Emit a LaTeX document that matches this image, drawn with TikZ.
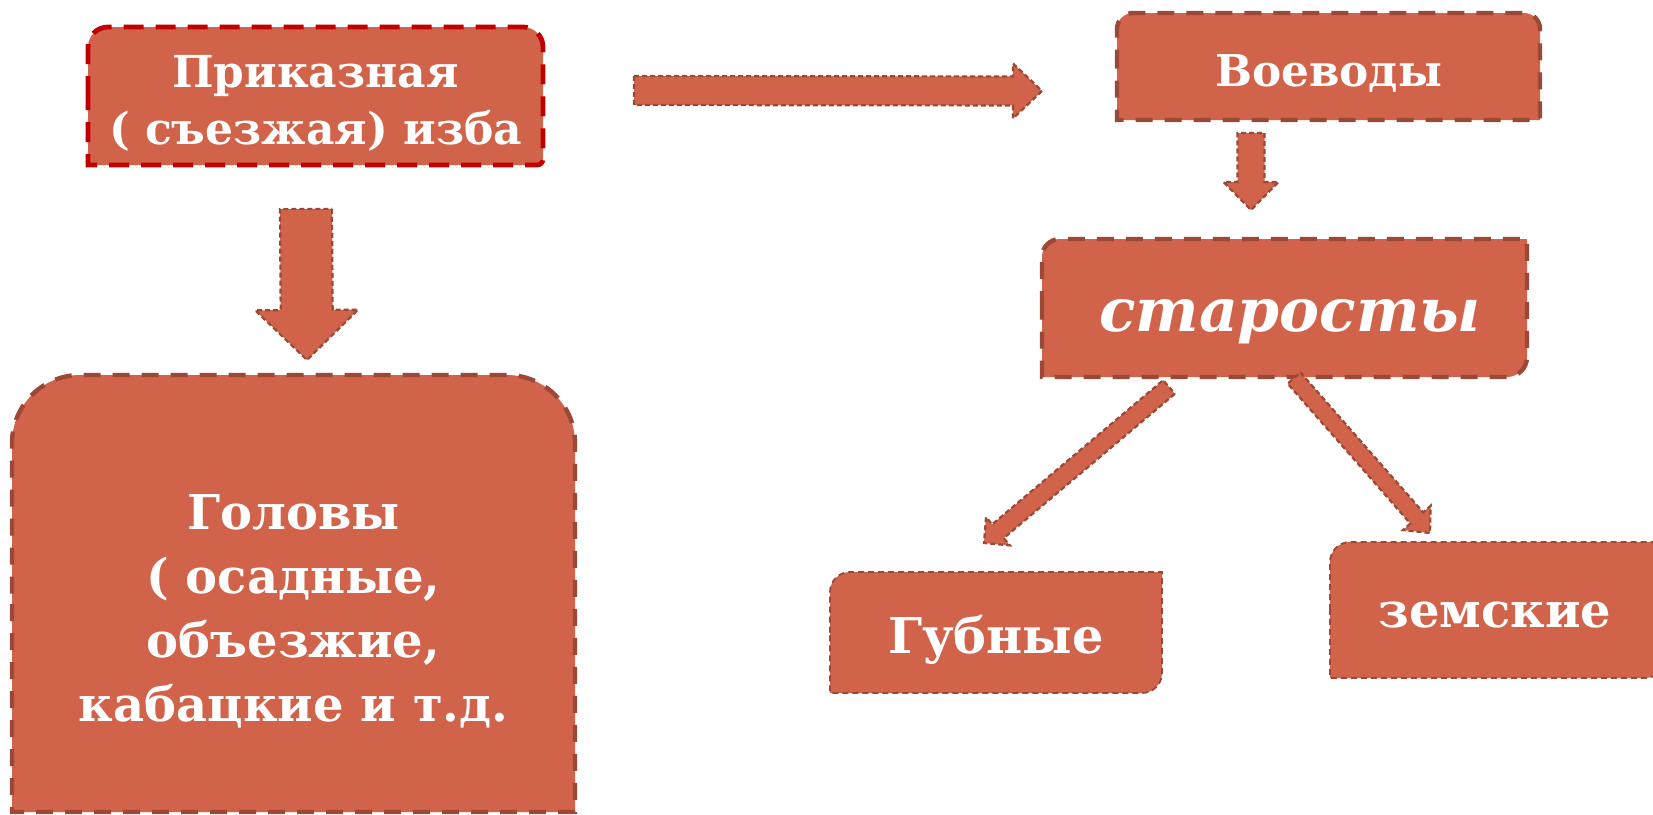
\documentclass[tikz,border=0pt]{standalone}
\usepackage{fontspec}
\setmainfont{DejaVu Serif}
\usepackage{tikz}
\usetikzlibrary{calc, backgrounds}

\definecolor{terra}{RGB}{209,99,74}
\definecolor{rust}{RGB}{155,72,55}
\definecolor{crimson}{RGB}{192,0,0}

% outline of a node, one corner option each: tl, tr, br, bl
\newcommand{\boxoutline}[6]{%
  \path[#2] (#1.west) [#3] -- (#1.north west) -- (#1.north) [#4] -- (#1.north east) -- (#1.east) [#5] -- (#1.south east) -- (#1.south) [#6] -- (#1.south west) -- cycle;}

\begin{document}
\begin{tikzpicture}[node distance=120pt]
%
% Skiss:
% Приказная изба ====> Воеводы
%       ||                 ||
%       V                  V
%    Головы            старосты
%                      //      \\
%                   Губные    земские
%
\tikzstyle{box} = [rectangle, inner sep=0pt, outer sep=0pt]
\tikzstyle{boxtext} = [text=white, align=center, inner sep=0pt]
\tikzstyle{thickline} = [fill=terra, draw=rust, line width=2.2pt, dash pattern=on 8.5pt off 6pt]
\tikzstyle{redline} = [fill=terra, draw=crimson, line width=2.4pt, dash pattern=on 10pt off 6pt]
\tikzstyle{thinline} = [fill=terra, draw=rust, line width=0.9pt, dash pattern=on 3pt off 2pt]
\tikzstyle{arrow} = [fill=terra, draw=rust, line width=1.1pt, dash pattern=on 2.5pt off 1.5pt]
\tikzset{fatarrow/.style n args={3}{to path={
  let \p1=(\tikztostart), \p2=(\tikztotarget),
      \n1={atan2(\y2-\y1,\x2-\x1)}, \n2={veclen(\x2-\x1,\y2-\y1)-#3} in
  ($(\p1)+(\n1+90:#1)$) -- ($(\p1)+(\n1:\n2)+(\n1+90:#1)$)
  -- ($(\p1)+(\n1:\n2)+(\n1+90:#2)$) -- (\p2)
  -- ($(\p1)+(\n1:\n2)+(\n1-90:#2)$) -- ($(\p1)+(\n1:\n2)+(\n1-90:#1)$)
  -- ($(\p1)+(\n1-90:#1)$) -- cycle}}}

\useasboundingbox (0,0) rectangle (826.5pt,-407pt);

% Nodes
\node (izba) [box, minimum width=227.5pt, minimum height=69pt, label={[boxtext, yshift=-3.8pt, font=\bfseries\fontsize{22}{28.5}\selectfont]center:{Приказная\\( съезжая) изба}}] at (157.75pt,-48pt) {};
\node (golovy) [box, below of=izba, xshift=-11pt, yshift=-128.75pt, minimum width=281.5pt, minimum height=218.5pt, label={[boxtext, yshift=-9.1pt, font=\bfseries\fontsize{24}{32}\selectfont]center:{Головы\\( осадные,\\объезжие,\\кабацкие и т.д.}}] {};
\node (voevody) [box, right of=izba, xshift=386.5pt, yshift=14.75pt, minimum width=211.5pt, minimum height=53.5pt, label={[boxtext, yshift=-3.7pt, font=\bfseries\fontsize{21.9}{25}\selectfont]center:Воеводы}] {};
\node (starosty) [box, below of=voevody, xshift=-22pt, yshift=-0.75pt, minimum width=242.5pt, minimum height=69pt, label={[boxtext, xshift=2.75pt, yshift=-6.8pt, font=\bfseries\itshape\fontsize{30}{36}\selectfont]center:старосты}] {};
\node (gubnye) [box, below of=starosty, xshift=-144.25pt, yshift=-42.25pt, minimum width=166pt, minimum height=60.5pt, label={[boxtext, yshift=-3.4pt, font=\bfseries\fontsize{24.7}{28}\selectfont]center:Губные}] {};
\node (zemskie) [box, below of=starosty, xshift=106.5pt, yshift=-31pt, minimum width=167.5pt, minimum height=68pt, label={[boxtext, xshift=-1.25pt, yshift=-2.75pt, font=\bfseries\fontsize{24}{28}\selectfont]center:земские}] {};

% Shapes
\begin{pgfonlayer}{background}
\boxoutline{izba}{redline}{rounded corners=10pt}{rounded corners=10pt}{rounded corners=3pt}{sharp corners}
\boxoutline{golovy}{thickline}{rounded corners=34pt}{rounded corners=34pt}{sharp corners}{sharp corners}
\boxoutline{voevody}{thickline}{rounded corners=8pt}{rounded corners=8pt}{sharp corners}{sharp corners}
\boxoutline{starosty}{thickline}{rounded corners=9pt}{sharp corners}{rounded corners=10pt}{sharp corners}
\boxoutline{gubnye}{thinline}{rounded corners=10pt}{sharp corners}{rounded corners=10pt}{sharp corners}
\boxoutline{zemskie}{thinline}{rounded corners=10pt}{sharp corners}{rounded corners=10pt}{sharp corners}
\end{pgfonlayer}

% Arrows
\draw [arrow, fatarrow={13pt}{25.75pt}{25pt}] ([xshift=-4.75pt, yshift=-22pt]izba.south) to ([xshift=6.75pt, yshift=7.5pt]golovy.north);
\draw [arrow, fatarrow={7.25pt}{13.75pt}{14.5pt}] ([xshift=45.5pt, yshift=2.75pt]izba.east) to ([xshift=-37.5pt, yshift=-12.25pt]voevody.west);
\draw [arrow, fatarrow={6.75pt}{13.75pt}{14pt}] ([xshift=-38.75pt, yshift=-6.5pt]voevody.south) to ([xshift=-16.75pt, yshift=14.5pt]starosty.north);
\draw [arrow, fatarrow={4.5pt}{9.25pt}{9pt}] ([xshift=-57.75pt, yshift=-5pt]starosty.south) to ([xshift=-6pt, yshift=14.5pt]gubnye.north);
\draw [arrow, fatarrow={4.25pt}{9.25pt}{10pt}] ([xshift=4.75pt, yshift=-0.5pt]starosty.south) to ([xshift=-33.75pt, yshift=4.5pt]zemskie.north);

\end{tikzpicture}
\end{document}
